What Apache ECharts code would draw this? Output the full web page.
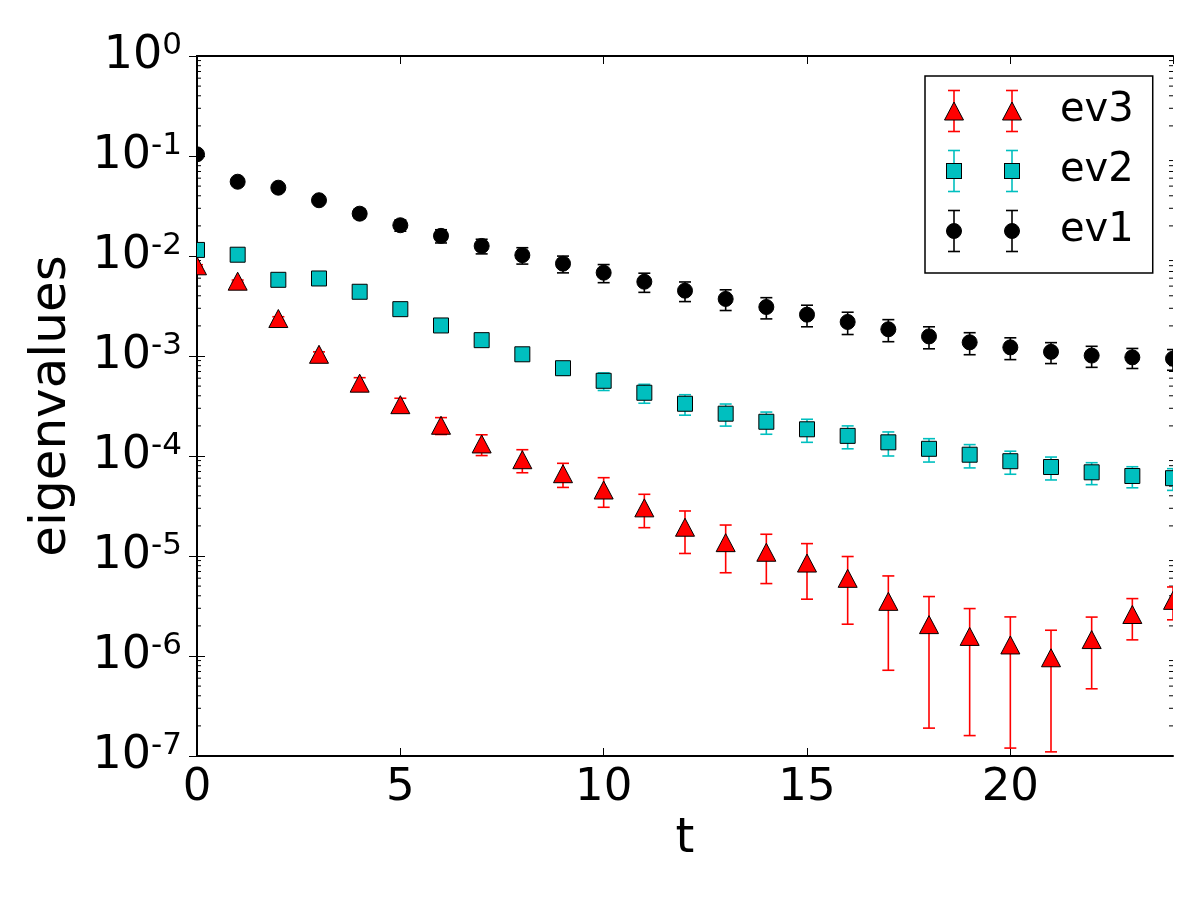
<!DOCTYPE html>
<html>
<head>
<meta charset="utf-8">
<script src="https://cdn.jsdelivr.net/npm/echarts@6/dist/echarts.min.js"></script>
<style>
html, body { margin: 0; padding: 0; background: #fff; }
#container { width: 1200px; height: 900px; }
</style>
</head>
<body>
<div id="container"></div>
<script>
let t = [0, 1, 2, 3, 4, 5, 6, 7, 8, 9, 10, 11, 12, 13, 14, 15, 16, 17, 18, 19, 20, 21, 22, 23, 24];

let ev1 = [0.104, 0.0553, 0.0482, 0.0361, 0.0265, 0.0203, 0.0159, 0.0126, 0.0102, 0.00838, 0.00681, 0.00553, 0.0045,
    0.00372, 0.00309, 0.00259, 0.00219, 0.00185, 0.00157, 0.00137, 0.00122, 0.0011, 0.00101, 0.00097, 0.00094];
let ev1Err = [0.003, 0.0022, 0.0024, 0.0025, 0.0027, 0.0026, 0.0024, 0.0021, 0.0019, 0.0016, 0.0014, 0.0012, 0.001,
    0.00087, 0.00074, 0.00063, 0.00055, 0.00046, 0.00039, 0.00034, 0.0003, 0.00026, 0.00024, 0.00022, 0.00022];

let ev2 = [0.0115, 0.0103, 0.00578, 0.00596, 0.00439, 0.00294, 0.00202, 0.00144, 0.00104, 7.55e-4, 5.65e-4, 4.29e-4, 3.33e-4,
    2.65e-4, 2.2e-4, 1.85e-4, 1.59e-4, 1.37e-4, 1.18e-4, 1.03e-4, 8.87e-5, 7.76e-5, 6.87e-5, 6.31e-5, 6.0e-5];
let ev2Err = [4.6e-4, 4.1e-4, 2.3e-4, 2.4e-4, 2.2e-4, 1.8e-4, 1.6e-4, 1.44e-4, 1.35e-4, 1.13e-4, 1.13e-4, 9.2e-5, 7.7e-5,
    6.6e-5, 5.5e-5, 4.8e-5, 4.1e-5, 3.7e-5, 3.1e-5, 2.7e-5, 2.3e-5, 2.0e-5, 1.7e-5, 1.5e-5, 1.47e-5];

let ev3 = [0.00798, 0.0056, 0.00237, 0.00104, 5.35e-4, 3.26e-4, 2.03e-4, 1.32e-4, 9.18e-5, 6.65e-5, 4.57e-5, 3.03e-5, 1.94e-5,
    1.36e-5, 1.09e-5, 8.5e-6, 5.98e-6, 3.52e-6, 2.06e-6, 1.57e-6, 1.29e-6, 9.6e-7, 1.46e-6, 2.6e-6, 3.6e-6];
let ev3Err = [2e-4, 1.5e-4, 1e-4, 6e-5, 7.2e-5, 5.2e-5, 3.9e-5, 3.1e-5, 2.38e-5, 1.8e-5, 1.5e-5, 1.11e-5, 8.8e-6,
    6.8e-6, 5.6e-6, 4.8e-6, 3.9e-6, 2.8e-6, 1.87e-6, 1.41e-6, 1.17e-6, 8.5e-7, 9.9e-7, 1.15e-6, 1.3e-6];

const FONT = 'DejaVu Sans';
const RED = '#ff0000', CYAN = '#00bfbf', BLACK = '#000000';
const YMIN = 1e-7, YMAX = 1;

// log minor ticks 2..9 per decade (axis decoration only)
let minorTicks = [];
for (let k = -7; k < 0; k++) {
    for (let m = 2; m <= 9; m++) minorTicks.push([0, m * Math.pow(10, k)]);
}

function markerShape(kind, x, y, color) {
    let st = { fill: color, stroke: '#000', lineWidth: 1 };
    if (kind === 'circle') return { type: 'circle', shape: { cx: x, cy: y, r: 7.5 }, style: st };
    if (kind === 'square') return { type: 'rect', shape: { x: x - 7.5, y: y - 7.5, width: 15, height: 15 }, style: st };
    return { type: 'polygon', shape: { points: [[x, y - 9], [x - 9.5, y + 9], [x + 9.5, y + 9]] }, style: st };
}

function errRender(kind, color) {
    return function (params, api) {
        let x = api.value(0), v = api.value(1), e = api.value(2);
        let c = api.coord([x, v]);
        let hi = api.coord([x, v + e]);
        let lo = api.coord([x, Math.max(v - e, 1e-12)]);
        let ls = { stroke: color, lineWidth: 1.6 };
        return {
            type: 'group',
            children: [
                { type: 'line', shape: { x1: c[0], y1: hi[1], x2: c[0], y2: lo[1] }, style: ls },
                { type: 'line', shape: { x1: c[0] - 6, y1: hi[1], x2: c[0] + 6, y2: hi[1] }, style: ls },
                { type: 'line', shape: { x1: c[0] - 6, y1: lo[1], x2: c[0] + 6, y2: lo[1] }, style: ls },
                markerShape(kind, c[0], c[1], color)
            ]
        };
    };
}

function rows(vals, errs) {
    return t.map((x, i) => [x, vals[i], errs[i]]);
}

function legendIcon(kind, color) {
    let parts = '';
    [14, 72].forEach((x) => {
        parts += `<line x1='${x}' y1='1.5' x2='${x}' y2='42.5' stroke='${color}' stroke-width='1.6'/>`;
        parts += `<line x1='${x - 6}' y1='1.5' x2='${x + 6}' y2='1.5' stroke='${color}' stroke-width='1.6'/>`;
        parts += `<line x1='${x - 6}' y1='42.5' x2='${x + 6}' y2='42.5' stroke='${color}' stroke-width='1.6'/>`;
        if (kind === 'circle') parts += `<circle cx='${x}' cy='22' r='7.5' fill='${color}' stroke='#000' stroke-width='1'/>`;
        else if (kind === 'square') parts += `<rect x='${x - 7.5}' y='14.5' width='15' height='15' fill='${color}' stroke='#000' stroke-width='1'/>`;
        else parts += `<polygon points='${x},13 ${x - 9.5},31 ${x + 9.5},31' fill='${color}' stroke='#000' stroke-width='1'/>`;
    });
    let svg = `<svg xmlns='http://www.w3.org/2000/svg' width='115' height='44'>${parts}</svg>`;
    return 'image://data:image/svg+xml;charset=utf-8,' + encodeURIComponent(svg);
}

let dom = document.getElementById('container');
let chart = echarts.init(dom, null, { renderer: 'canvas' });

let tickStyle = { show: true, inside: true, length: 8, lineStyle: { color: '#000', width: 1 } };
let lineStyle = { show: true, lineStyle: { color: '#000', width: 2 } };

chart.setOption({
    animation: false,
    backgroundColor: '#fff',
    grid: { left: 197, right: 27, top: 56, bottom: 144, containLabel: false },
    legend: {
        orient: 'vertical',
        left: 925,
        top: 76,
        padding: [13, 19, 20, 15],
        itemWidth: 115,
        itemHeight: 44,
        itemGap: 16,
        backgroundColor: '#fff',
        borderColor: '#000',
        borderWidth: 1.5,
        textStyle: { fontFamily: FONT, fontSize: 40, color: '#000' },
        data: [
            { name: 'ev3', icon: legendIcon('triangle', RED) },
            { name: 'ev2', icon: legendIcon('square', CYAN) },
            { name: 'ev1', icon: legendIcon('circle', BLACK) }
        ]
    },
    xAxis: [{
        type: 'value', min: 0, max: 24, interval: 5,
        name: 't', nameLocation: 'middle', nameGap: 60,
        nameTextStyle: { fontFamily: FONT, fontSize: 48, color: '#000' },
        axisLine: lineStyle, axisTick: tickStyle, splitLine: { show: false },
        axisLabel: { fontFamily: FONT, fontSize: 45, color: '#000', margin: 10, showMaxLabel: false }
    }, {
        type: 'value', min: 0, max: 24, interval: 5, position: 'top',
        axisLine: lineStyle, axisTick: tickStyle, splitLine: { show: false },
        axisLabel: { show: false }
    }],
    yAxis: [{
        type: 'log', logBase: 10, min: YMIN, max: YMAX, interval: 1,
        name: 'eigenvalues', nameLocation: 'middle', nameGap: 120,
        nameTextStyle: { fontFamily: FONT, fontSize: 50, color: '#000' },
        axisLine: lineStyle, axisTick: tickStyle, splitLine: { show: false }, minorTick: { show: false },
        axisLabel: {
            margin: 15,
            formatter: function (v) {
                let p = Math.round(Math.log10(v));
                return '{b|10}{s|' + p + '}';
            },
            rich: {
                b: { fontFamily: FONT, fontSize: 46, color: '#000', lineHeight: 52 },
                s: { fontFamily: FONT, fontSize: 31, color: '#000', lineHeight: 24, verticalAlign: 'top' }
            }
        }
    }, {
        type: 'log', logBase: 10, min: YMIN, max: YMAX, interval: 1, position: 'right',
        axisLine: lineStyle, axisTick: tickStyle, splitLine: { show: false },
        axisLabel: { show: false }
    }],
    series: [{
        name: 'minor', type: 'custom', silent: true, z: 1,
        data: minorTicks,
        renderItem: function (params, api) {
            let v = api.value(1);
            let a = api.coord([0, v]);
            let b = api.coord([24, v]);
            let st = { stroke: '#000', lineWidth: 1 };
            return {
                type: 'group',
                children: [
                    { type: 'line', shape: { x1: a[0], y1: a[1], x2: a[0] + 4, y2: a[1] }, style: st },
                    { type: 'line', shape: { x1: b[0], y1: b[1], x2: b[0] - 4, y2: b[1] }, style: st }
                ]
            };
        }
    }, {
        name: 'ev3', type: 'custom', clip: true, z: 2,
        encode: { x: 0, y: 1 },
        itemStyle: { color: RED },
        data: rows(ev3, ev3Err),
        renderItem: errRender('triangle', RED)
    }, {
        name: 'ev2', type: 'custom', clip: true, z: 3,
        encode: { x: 0, y: 1 },
        itemStyle: { color: CYAN },
        data: rows(ev2, ev2Err),
        renderItem: errRender('square', CYAN)
    }, {
        name: 'ev1', type: 'custom', clip: true, z: 4,
        encode: { x: 0, y: 1 },
        itemStyle: { color: BLACK },
        data: rows(ev1, ev1Err),
        renderItem: errRender('circle', BLACK)
    }]
});
</script>
</body>
</html>
